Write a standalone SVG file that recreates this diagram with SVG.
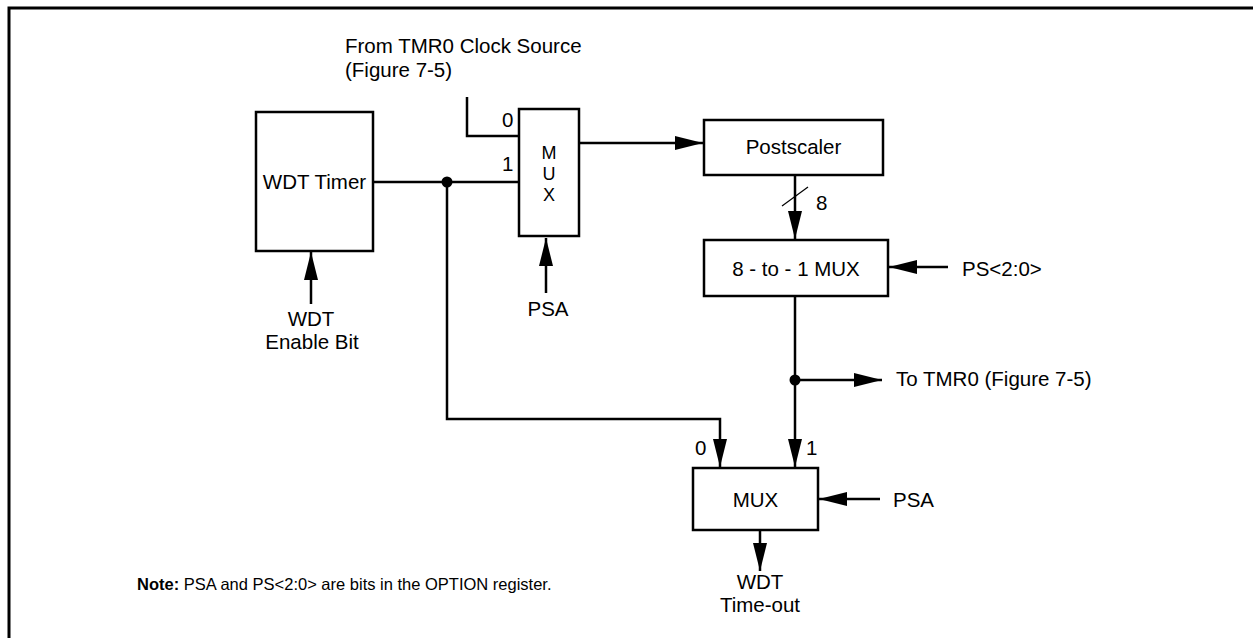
<svg xmlns="http://www.w3.org/2000/svg" width="1253" height="638" viewBox="0 0 1253 638">
<style>
.box{fill:#fff;stroke:#000;stroke-width:2.5}
.wire{fill:none;stroke:#000;stroke-width:2.5}
.arr{fill:none;stroke:#000;stroke-width:2.5;marker-end:url(#ah)}
text{font-family:"Liberation Sans",Arial,Helvetica,sans-serif;font-size:20.5px;fill:#000}
.m{text-anchor:middle}
.v{font-size:18px}
.note{font-size:16.5px}
</style>
<defs>
<marker id="ah" markerUnits="userSpaceOnUse" markerWidth="30" markerHeight="15" refX="28" refY="7" orient="auto"><path d="M0,0 L28,7 L0,14 z" fill="#000"/></marker>
</defs>
<path d="M9,638 V8 H1253" fill="none" stroke="#000" stroke-width="3"/>
<g id="connectors">
<path class="arr" d="M311,304 V252"/>
<path class="arr" d="M546,293 V238"/>
<path class="wire" d="M467,97 V136 H519"/>
<path class="wire" d="M373,182 H519"/>
<path class="arr" d="M447,182 V419 H720 V467"/>
<path class="arr" d="M579,143 H703"/>
<path class="arr" d="M795,176 V239"/>
<path class="wire" d="M782,206 L808,187" style="stroke-width:1.2"/>
<path class="arr" d="M948,267 H889"/>
<path class="arr" d="M795,296 V467"/>
<path class="arr" d="M795,380 H882"/>
<path class="arr" d="M880,499 H819"/>
<path class="arr" d="M760,530 V571"/>
<circle cx="447" cy="182" r="5.5" fill="#000"/>
<circle cx="795" cy="380" r="5.5" fill="#000"/>
</g>
<g id="wdt-timer"><rect class="box" x="256" y="112" width="117" height="139"/><text class="m" x="314.5" y="189">WDT Timer</text></g>
<g id="mux1"><rect class="box" x="519" y="109" width="60" height="127"/><text class="m v" x="549" y="159">M</text><text class="m v" x="549" y="180">U</text><text class="m v" x="549" y="201">X</text></g>
<g id="postscaler"><rect class="box" x="704" y="120" width="179" height="55"/><text class="m" x="793.5" y="154">Postscaler</text></g>
<g id="mux8"><rect class="box" x="704" y="240" width="184" height="56"/><text class="m" x="796" y="276">8 - to - 1 MUX</text></g>
<g id="mux2"><rect class="box" x="693" y="468" width="125" height="62"/><text class="m" x="755.5" y="507">MUX</text></g>
<g id="labels">
<text x="345" y="53">From TMR0 Clock Source</text>
<text x="345" y="77">(Figure 7-5)</text>
<text x="502" y="127">0</text>
<text x="502" y="171">1</text>
<text class="m" x="548" y="316">PSA</text>
<text class="m" x="311" y="326">WDT</text>
<text class="m" x="312" y="349">Enable Bit</text>
<text x="816" y="210">8</text>
<text x="962" y="276">PS&lt;2:0&gt;</text>
<text x="896" y="386">To TMR0 (Figure 7-5)</text>
<text x="695" y="455">0</text>
<text x="806" y="455">1</text>
<text x="893" y="507">PSA</text>
<text class="m" x="760" y="589">WDT</text>
<text class="m" x="760" y="612">Time-out</text>
<text class="note" x="137" y="590"><tspan font-weight="bold">Note:</tspan> PSA and PS&lt;2:0&gt; are bits in the OPTION register.</text>
</g>
</svg>
